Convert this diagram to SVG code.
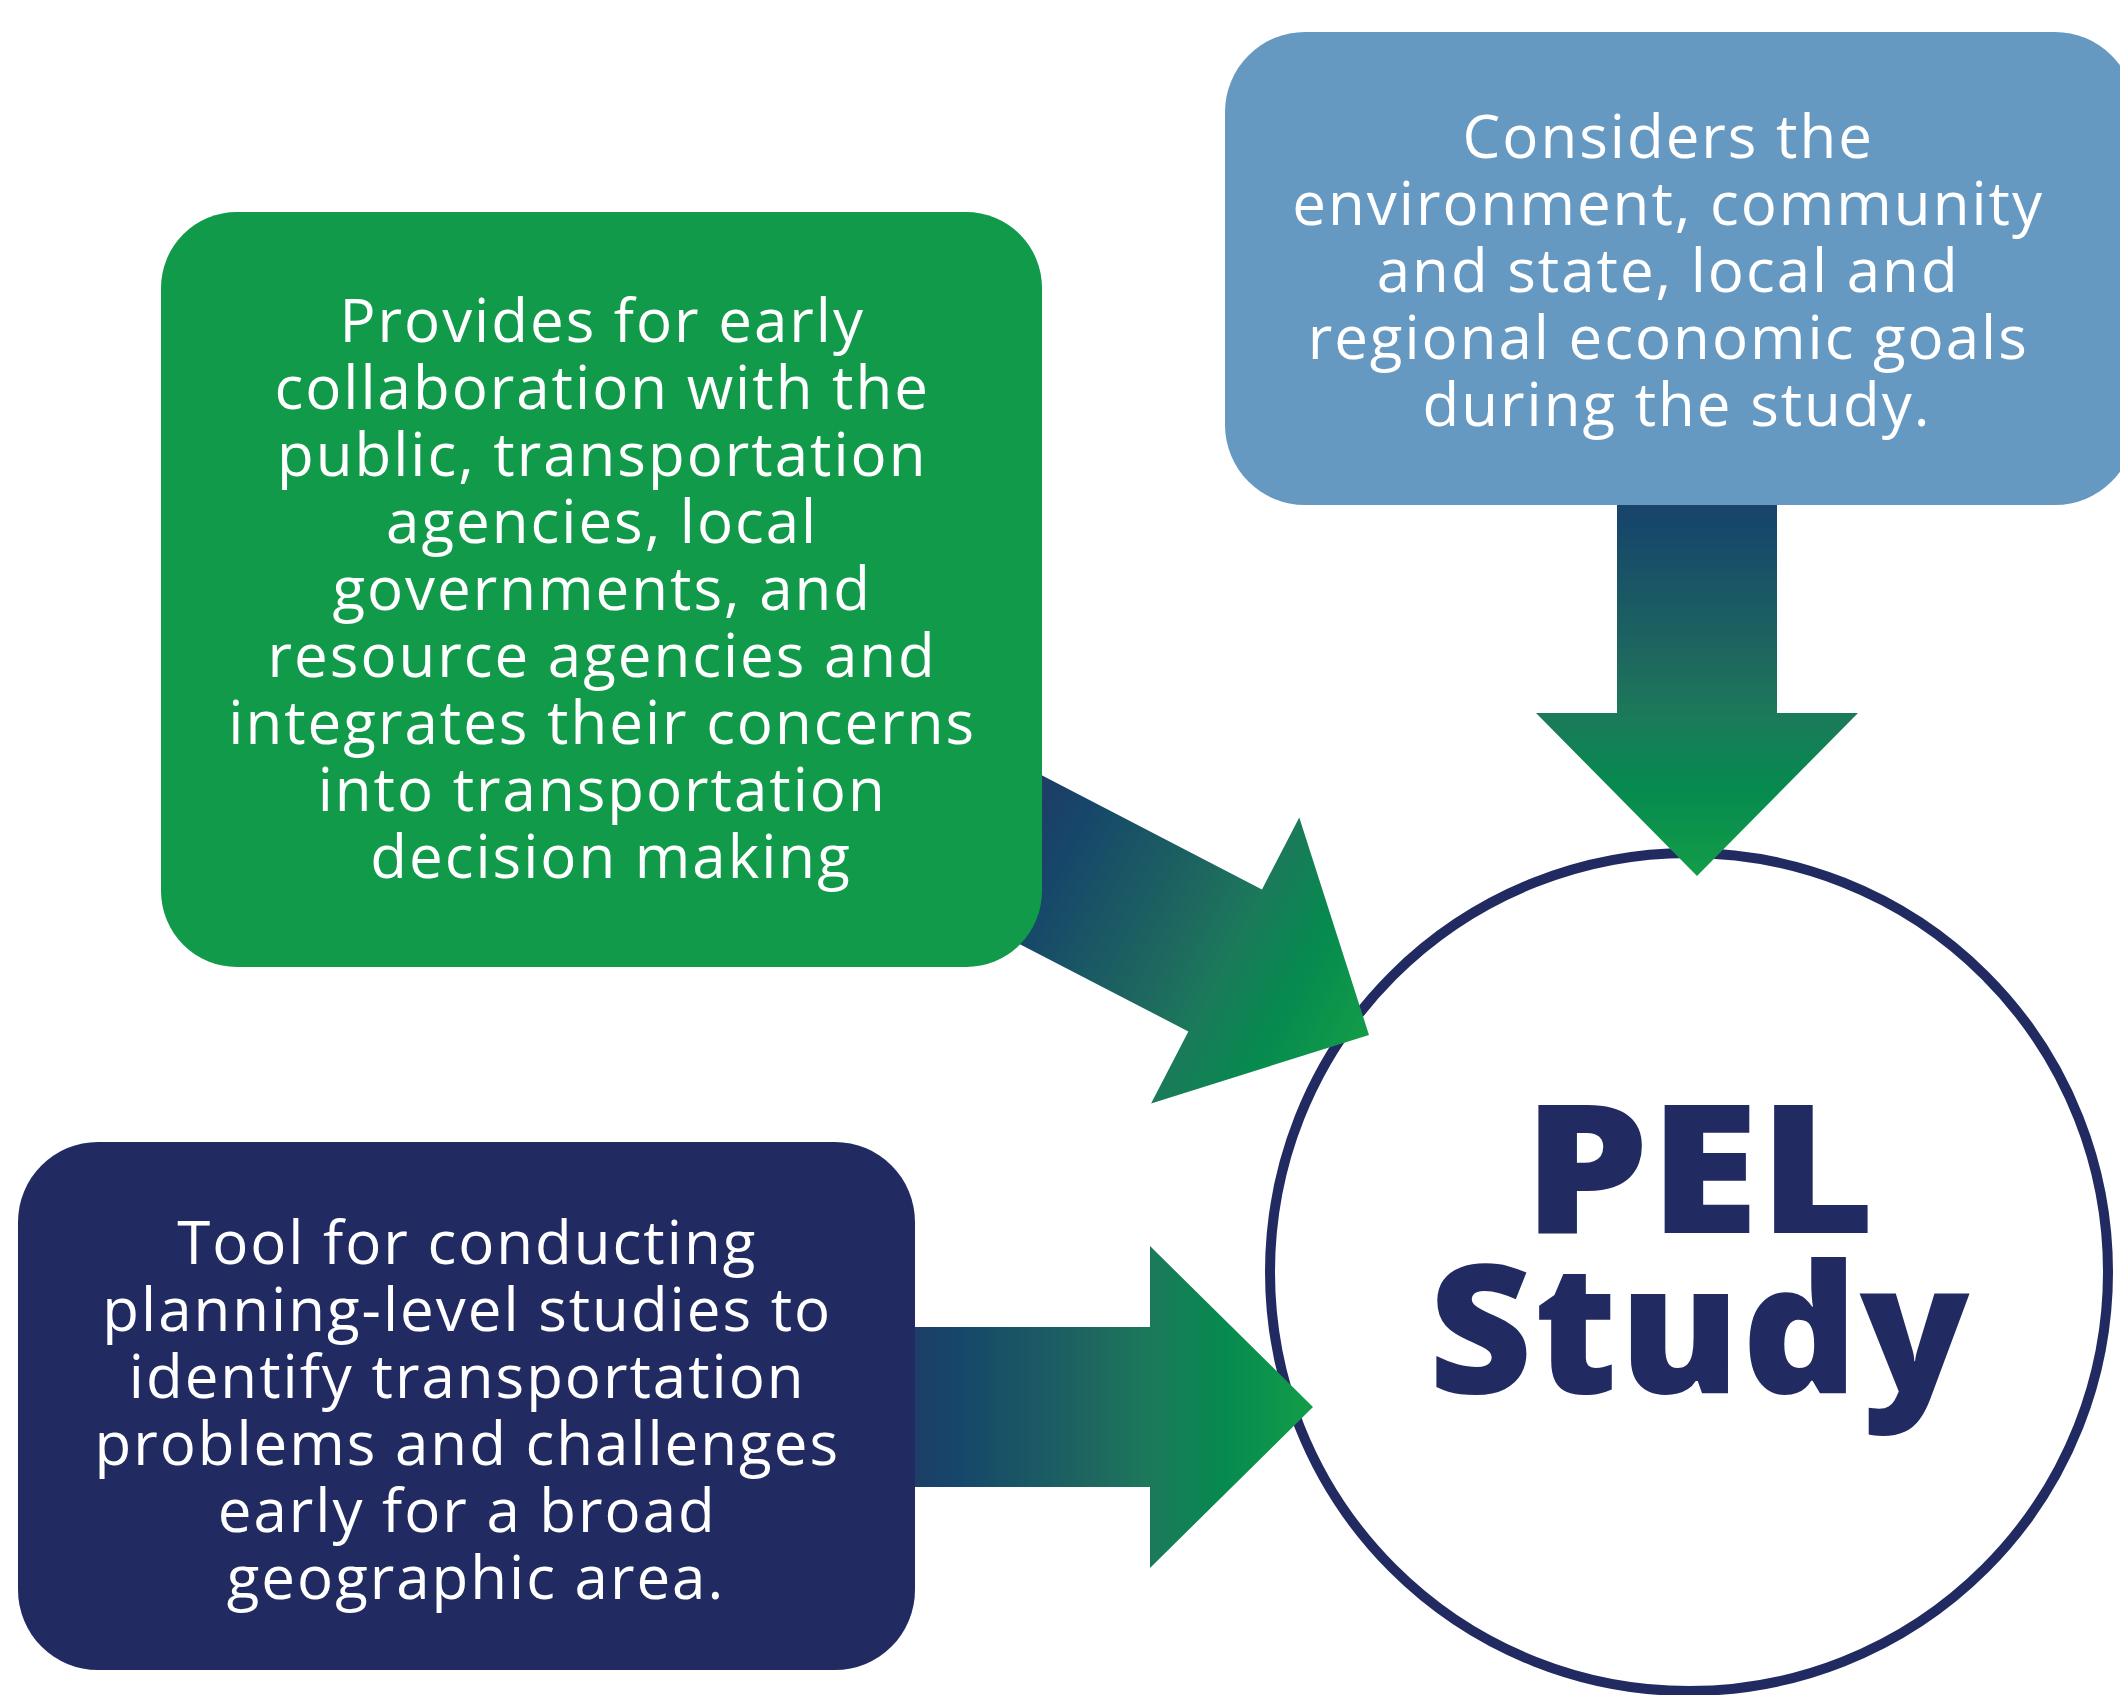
<svg xmlns="http://www.w3.org/2000/svg" width="2120" height="1695" viewBox="0 0 2120 1695">
<defs>
<linearGradient id="arrowGrad" gradientUnits="userSpaceOnUse" x1="-400" y1="0" x2="0" y2="0">
<stop offset="0" stop-color="#1d3e66"/>
<stop offset="0.12" stop-color="#16476a"/>
<stop offset="0.45" stop-color="#1e675f"/>
<stop offset="0.6" stop-color="#1b7a5a"/>
<stop offset="0.78" stop-color="#068a4f"/>
<stop offset="1" stop-color="#139d48"/>
</linearGradient>
<style>
.box-text{font-family:"Open Sans","Liberation Sans",sans-serif;font-size:60px;letter-spacing:2px;fill:#ffffff;text-anchor:middle;}
.arrow{fill:url(#arrowGrad);}
.title{font-family:"Open Sans","Liberation Sans",sans-serif;font-weight:800;font-size:180px;fill:#212b61;text-anchor:middle;}
</style>
</defs>
<rect width="2120" height="1695" fill="#ffffff"/>

<g id="pel-study">
<circle cx="1689" cy="1272" r="419" fill="#ffffff" stroke="#212b61" stroke-width="10"/>
<text class="title" x="1699" y="1233" textLength="352" lengthAdjust="spacingAndGlyphs">PEL</text>
<text class="title" x="1699" y="1393" textLength="541" lengthAdjust="spacing">Study</text>
</g>

<g id="connectors">
<polygon class="arrow" transform="translate(1369,1035) rotate(27.4)" points="-560,-80 -162,-80 -162,-161 0,0 -162,161 -162,80 -560,80"/>
<polygon class="arrow" transform="translate(1697,876) rotate(90)" points="-400,-80 -163,-80 -163,-161 0,0 -163,161 -163,80 -400,80"/>
<polygon class="arrow" transform="translate(1313,1407)" points="-420,-80 -163,-80 -163,-161 0,0 -163,161 -163,80 -420,80"/>
</g>

<g id="box-collaboration">
<rect x="161" y="212" width="881" height="755" rx="76" fill="#119a4a"/>
<text class="box-text">
<tspan x="611" y="342">Provides for early</tspan>
<tspan x="611" y="409">collaboration with the</tspan>
<tspan x="611" y="476">public, transportation</tspan>
<tspan x="611" y="543">agencies, local</tspan>
<tspan x="611" y="610">governments, and</tspan>
<tspan x="611" y="677">resource agencies and</tspan>
<tspan x="611" y="744">integrates their concerns</tspan>
<tspan x="611" y="811">into transportation</tspan>
<tspan x="611" y="878">decision making</tspan>
</text>
</g>

<g id="box-environment">
<rect x="1225" y="32" width="910" height="473" rx="80" fill="#6699c2"/>
<text class="box-text">
<tspan x="1677" y="158">Considers the</tspan>
<tspan x="1677" y="225">environment, community</tspan>
<tspan x="1677" y="292">and state, local and</tspan>
<tspan x="1677" y="359">regional economic goals</tspan>
<tspan x="1677" y="426">during the study.</tspan>
</text>
</g>

<g id="box-tool">
<rect x="18" y="1142" width="897" height="528" rx="80" fill="#212b61"/>
<text class="box-text">
<tspan x="476" y="1264">Tool for conducting</tspan>
<tspan x="476" y="1331">planning-level studies to</tspan>
<tspan x="476" y="1398">identify transportation</tspan>
<tspan x="476" y="1465">problems and challenges</tspan>
<tspan x="476" y="1532">early for a broad</tspan>
<tspan x="476" y="1599">geographic area.</tspan>
</text>
</g>
</svg>
